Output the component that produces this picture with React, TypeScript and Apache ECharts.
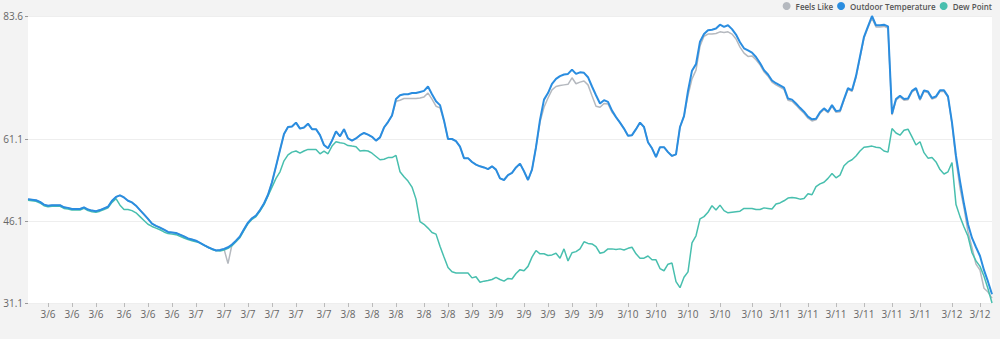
import React, { useEffect, useRef } from "react";
import * as echarts from "echarts";

const seriesNames = ["Feels Like", "Outdoor Temperature", "Dew Point"];

const outdoorTemperature = [
  50.1, 50.0, 49.9, 49.6, 49.1, 48.9, 49.0, 49.0, 49.0, 48.6,
  48.5, 48.3, 48.3, 48.3, 48.6, 48.2, 48.0, 47.9, 48.1, 48.4,
  48.7, 49.8, 50.5, 50.8, 50.4, 49.8, 49.5, 48.9, 48.1, 47.3,
  46.5, 45.6, 45.2, 44.9, 44.5, 44.1, 44.0, 43.9, 43.6, 43.3,
  42.9, 42.7, 42.5, 42.1, 41.7, 41.3, 41.0, 40.7, 40.8, 41.0,
  41.3, 41.8, 42.5, 43.3, 44.6, 45.8, 46.6, 47.1, 48.1, 49.3,
  50.9, 53.2, 56.1, 59.1, 62.0, 63.3, 63.4, 64.1, 63.0, 63.2,
  63.9, 62.9, 62.9, 61.8, 60.0, 59.4, 60.8, 62.5, 61.6, 62.9,
  61.2, 60.8, 61.2, 61.8, 62.2, 61.9, 61.5, 60.8, 61.4, 63.2,
  64.2, 65.4, 68.4, 69.1, 69.3, 69.3, 69.5, 69.5, 69.7, 69.9,
  70.7, 69.3, 68.0, 67.3, 64.5, 61.1, 61.1, 60.7, 59.7, 57.6,
  57.6, 56.9, 56.4, 56.1, 55.9, 55.6, 56.1, 55.5, 53.9, 53.6,
  54.5, 54.9, 55.9, 56.6, 55.2, 53.6, 55.5, 59.6, 64.6, 68.3,
  69.5, 71.2, 72.1, 72.6, 72.9, 73.0, 73.8, 73.0, 73.3, 73.2,
  72.4, 70.7, 69.1, 67.6, 68.2, 67.9, 66.3, 65.1, 64.1, 63.0,
  61.7, 61.8, 62.9, 64.1, 63.3, 60.5, 59.4, 57.8, 59.6, 59.6,
  58.7, 58.0, 58.3, 63.3, 65.3, 69.9, 73.6, 74.8, 78.9, 80.3,
  81.0, 81.1, 81.3, 82.0, 81.6, 81.9, 81.2, 80.2, 78.8, 77.7,
  77.3, 76.9, 76.1, 75.0, 73.7, 72.9, 71.8, 71.3, 70.9, 70.5,
  68.5, 68.3, 67.6, 66.8, 66.1, 65.2, 64.7, 64.8, 66.0, 66.7,
  66.1, 67.3, 66.2, 66.3, 68.4, 70.4, 70.0, 72.6, 76.2, 79.8,
  81.7, 83.6, 81.9, 81.9, 82.0, 81.7, 65.7, 68.4, 69.0, 68.4,
  68.5, 69.9, 70.4, 68.4, 70.0, 69.8, 68.6, 68.9, 70.0, 70.0,
  68.9, 64.1, 58.0, 53.4, 49.2, 45.5, 43.0, 41.3, 39.7, 37.1,
  35.0, 32.7,
];

const dewPoint = [
  49.9, 49.8, 49.7, 49.4, 48.9, 48.7, 48.8, 48.8, 48.8, 48.4,
  48.3, 48.1, 48.1, 48.1, 48.4, 48.0, 47.8, 47.7, 47.9, 48.2,
  48.5, 49.5, 50.2, 49.0, 48.2, 48.2, 48.0, 47.6, 46.9, 46.2,
  45.5, 45.1, 44.8, 44.5, 44.1, 43.8, 43.7, 43.6, 43.3, 43.0,
  42.7, 42.5, 42.3, 42.1, 41.7, 41.3, 40.9, 40.7, 40.6, 40.8,
  41.1, 41.6, 42.3, 43.1, 44.4, 45.6, 46.4, 46.9, 47.9, 49.1,
  50.7, 52.3, 53.9, 55.1, 57.1, 58.2, 58.7, 58.9, 58.5, 58.9,
  59.2, 59.2, 59.2, 58.4, 58.9, 58.4, 59.8, 60.6, 60.4, 60.3,
  59.9, 59.8, 59.7, 58.9, 59.0, 58.9, 58.5, 57.9, 57.3, 57.4,
  57.7, 57.7, 58.1, 55.1, 54.2, 53.4, 52.3, 50.1, 46.0, 45.5,
  44.8, 44.0, 43.7, 41.5, 39.5, 37.6, 36.8, 36.6, 36.6, 36.6,
  36.6, 35.7, 35.9, 34.9, 35.1, 35.2, 35.4, 35.8, 35.4, 35.1,
  35.6, 35.5, 36.5, 37.2, 37.0, 37.8, 39.5, 40.7, 40.1, 40.1,
  39.8, 39.9, 40.2, 39.3, 41.0, 38.8, 40.3, 40.5, 41.0, 42.3,
  42.0, 41.9, 41.4, 40.2, 40.4, 41.0, 41.0, 40.9, 41.0, 40.8,
  41.1, 41.3, 40.1, 39.3, 39.3, 39.7, 39.0, 39.0, 37.4, 37.0,
  38.2, 38.4, 35.0, 33.9, 35.8, 36.8, 42.1, 43.4, 46.5, 46.9,
  47.7, 48.9, 48.1, 49.0, 48.0, 47.6, 47.7, 47.8, 47.9, 48.4,
  48.4, 48.4, 48.2, 48.2, 48.5, 48.4, 48.3, 49.2, 49.4, 49.8,
  50.3, 50.4, 50.3, 50.1, 50.2, 51.1, 50.9, 52.4, 52.9, 53.2,
  53.9, 54.8, 54.0, 54.5, 56.2, 56.9, 57.3, 58.0, 58.9, 59.6,
  59.7, 59.8, 59.6, 59.5, 58.9, 58.7, 63.0, 62.2, 61.8, 62.7,
  62.9, 61.5, 60.0, 60.6, 58.6, 57.6, 57.7, 56.9, 55.5, 54.7,
  55.1, 56.8, 49.1, 46.9, 45.0, 43.3, 40.3, 38.8, 37.8, 36.0,
  33.7, 31.1,
];

const feelsLike = [
  50.1, 50.0, 49.9, 49.6, 49.1, 48.9, 49.0, 49.0, 49.0, 48.6,
  48.5, 48.3, 48.3, 48.3, 48.6, 48.2, 48.0, 47.9, 48.1, 48.4,
  48.7, 49.8, 50.5, 50.8, 50.4, 49.8, 49.5, 48.9, 48.1, 47.3,
  46.5, 45.6, 45.2, 44.9, 44.5, 44.1, 44.0, 43.9, 43.6, 43.3,
  42.9, 42.7, 42.5, 42.1, 41.7, 41.3, 41.0, 40.7, 40.8, 41.0,
  38.3, 41.8, 42.5, 43.3, 44.6, 45.8, 46.6, 47.1, 48.1, 49.3,
  50.9, 53.2, 56.1, 59.1, 62.0, 63.3, 63.4, 64.1, 63.0, 63.2,
  63.9, 62.9, 62.9, 61.8, 60.0, 59.4, 60.8, 62.5, 61.6, 62.9,
  61.2, 60.8, 61.2, 61.8, 62.2, 61.9, 61.5, 60.8, 61.4, 63.2,
  64.2, 65.4, 68.0, 68.2, 68.5, 68.5, 68.5, 68.5, 68.6, 68.8,
  69.5, 68.4, 67.1, 66.8, 64.4, 61.1, 61.1, 60.7, 59.7, 57.6,
  57.6, 56.9, 56.4, 56.1, 55.9, 55.6, 56.1, 55.5, 53.9, 53.6,
  54.5, 54.9, 55.9, 56.6, 55.2, 53.6, 55.5, 59.6, 64.2, 66.9,
  68.6, 70.1, 70.7, 70.9, 71.0, 71.1, 72.3, 71.2, 71.5, 71.7,
  71.0, 69.0, 67.1, 66.9, 67.6, 67.5, 66.0, 65.1, 64.1, 63.0,
  61.7, 61.8, 62.9, 64.1, 63.3, 60.5, 59.4, 57.8, 59.6, 59.6,
  58.7, 58.0, 58.3, 63.3, 65.3, 69.1, 72.1, 73.7, 78.1, 79.9,
  80.3, 80.3, 80.4, 80.7, 80.6, 80.7, 80.3, 79.4, 77.9, 76.8,
  76.2, 76.3, 75.6, 74.7, 73.4, 72.6, 71.5, 71.0, 70.6, 70.2,
  68.2, 68.0, 67.3, 66.5, 65.8, 64.9, 64.4, 64.6, 65.8, 66.5,
  65.9, 67.1, 66.0, 66.1, 68.2, 70.2, 69.8, 72.4, 76.0, 79.6,
  81.5, 83.2, 81.6, 81.6, 81.7, 81.4, 65.5, 68.2, 68.8, 68.2,
  68.3, 69.7, 70.2, 68.2, 69.8, 69.6, 68.4, 68.7, 69.8, 69.8,
  68.7, 63.9, 57.3, 52.1, 48.5, 44.1, 41.2, 38.2, 37.1, 33.8,
  33.1, 32.0,
];

// positions (point index) of the labelled ticks on the time axis, and their labels
const tickIndices = [
  5, 11, 17, 24, 30, 36, 42, 49, 55, 61, 67, 74, 80, 86, 92, 99, 105, 111,
  117, 124, 130, 136, 142, 150, 157, 165, 173, 181, 188, 195, 202, 209, 216,
  223, 231, 238,
];
const tickLabels = [
  "3/6", "3/6", "3/6", "3/6", "3/6", "3/6",
  "3/7", "3/7", "3/7", "3/7", "3/7", "3/7",
  "3/8", "3/8", "3/8", "3/8", "3/8",
  "3/9", "3/9", "3/9", "3/9", "3/9", "3/9",
  "3/10", "3/10", "3/10", "3/10", "3/10",
  "3/11", "3/11", "3/11", "3/11", "3/11", "3/11",
  "3/12", "3/12",
];
const yTickValues = [31.1, 46.1, 61.1, 83.6];

export default function App() {
  const ref = useRef<HTMLDivElement>(null);
  useEffect(() => {
    if (!ref.current) return;
    const chart = echarts.init(ref.current, null, { renderer: "svg" });
    const categories = outdoorTemperature.map((_, i) => {
      let label = tickLabels[0];
      for (let k = 0; k < tickIndices.length; k++) {
        if (tickIndices[k] <= i) label = tickLabels[k];
      }
      return label;
    });
    const tickSet = new Set(tickIndices);
    const showTick = (index: number) => tickSet.has(index);
    const font = "'Open Sans', 'Noto Sans', sans-serif";
    chart.setOption({
      animation: false,
      backgroundColor: "#f3f3f3",
      textStyle: { fontFamily: font },
      legend: {
        data: seriesNames,
        right: 8,
        top: 2,
        padding: 0,
        icon: "circle",
        itemWidth: 8,
        itemHeight: 8,
        itemGap: 4,
        textStyle: { fontSize: 8, color: "#555", fontWeight: 600, fontFamily: font },
      },
      grid: {
        left: 28,
        right: 8,
        top: 16,
        bottom: 36,
        show: true,
        backgroundColor: "#ffffff",
        borderWidth: 0,
      },
      xAxis: {
        type: "category",
        data: categories,
        boundaryGap: false,
        axisLine: { show: false },
        axisTick: { show: true, interval: showTick, length: 4, lineStyle: { color: "#bbbbbb" } },
        axisLabel: { interval: showTick, color: "#666", fontSize: 10, margin: 6, fontFamily: font },
        splitLine: { show: false },
      },
      yAxis: {
        type: "value",
        min: 31.1,
        max: 83.6,
        axisLine: { show: false },
        axisTick: { show: true, customValues: yTickValues, length: 3, lineStyle: { color: "#999" } },
        axisLabel: {
          customValues: yTickValues,
          color: "#666",
          fontSize: 10,
          margin: 5,
          fontFamily: font,
          formatter: (v: number) => v.toFixed(1),
        },
        splitLine: { show: true, lineStyle: { color: "#eeeeee" } },
      },
      series: [
        {
          name: seriesNames[0],
          type: "line",
          data: feelsLike,
          z: 1,
          symbol: "none",
          color: "#b5b9bf",
          lineStyle: { width: 1.5, color: "#b5b9bf" },
        },
        {
          name: seriesNames[1],
          type: "line",
          data: outdoorTemperature,
          z: 3,
          symbol: "none",
          color: "#2a8de0",
          lineStyle: { width: 2, color: "#2a8de0" },
        },
        {
          name: seriesNames[2],
          type: "line",
          data: dewPoint,
          z: 2,
          symbol: "none",
          color: "#48bfae",
          lineStyle: { width: 1.5, color: "#48bfae" },
        },
      ],
    });
    return () => chart.dispose();
  }, []);
  return (
    <div
      ref={ref}
      style={{ position: "fixed", left: 0, top: 0, width: 1000, height: 339, background: "#f3f3f3" }}
    />
  );
}
